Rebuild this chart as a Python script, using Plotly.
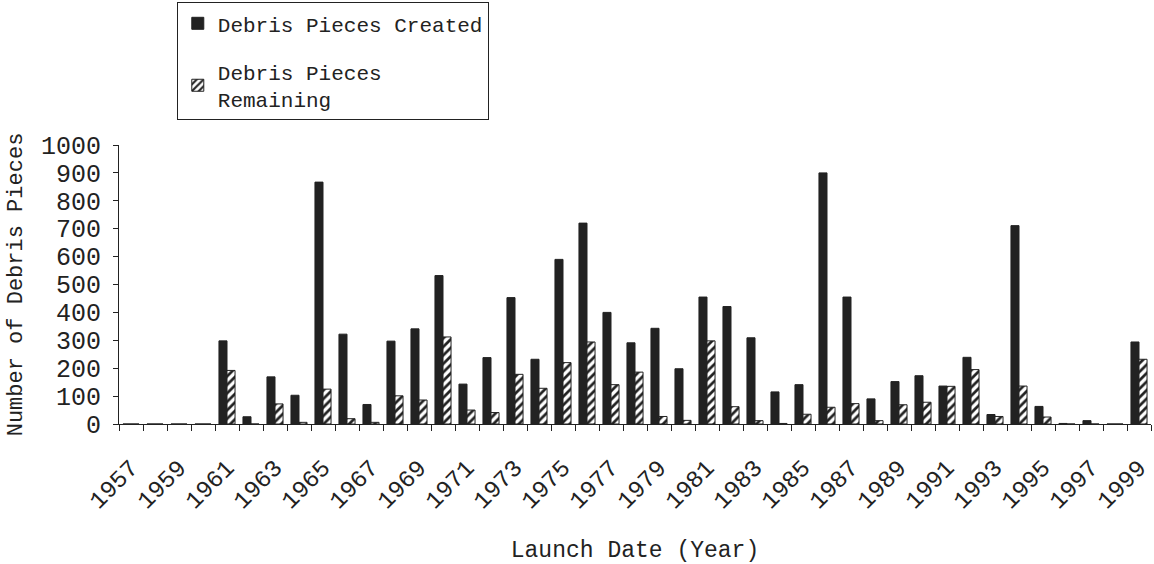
import plotly.graph_objects as go

years = list(range(1957, 2000))
created = [0, 0, 0, 0, 298, 26, 169, 103, 867, 322, 70, 297, 341, 532, 143, 238,
           453, 232, 590, 720, 400, 291, 343, 198, 455, 421, 309, 115, 141, 900,
           455, 90, 152, 173, 136, 239, 34, 711, 63, 2, 12, 0, 294]
remaining = [0, 0, 0, 0, 192, 0, 72, 6, 125, 19, 6, 101, 86, 312, 50, 41,
             178, 128, 220, 294, 141, 186, 27, 13, 298, 62, 12, 2, 35, 60,
             73, 12, 69, 78, 135, 195, 27, 136, 25, 0, 0, 0, 232]
label_years = [y for y in years if y % 2 == 1]

FONT = "Liberation Mono"
INK = "#222222"

fig = go.Figure()
fig.add_trace(go.Bar(
    x=years, y=created, name="Debris Pieces Created",
    marker=dict(color=INK, line=dict(color=INK, width=1)),
    legendgroup="a",
))
fig.add_trace(go.Bar(
    x=years, y=remaining, name="Debris Pieces<br>Remaining",
    marker=dict(color="white", line=dict(color=INK, width=1),
                pattern=dict(shape="/", size=6, solidity=0.45,
                             fgcolor=INK, bgcolor="white", fillmode="replace")),
    legendgroup="b",
))

fig.update_layout(
    width=1154, height=564,
    margin=dict(l=119, r=2, t=142, b=138),
    paper_bgcolor="white", plot_bgcolor="white",
    barmode="group", bargap=0.33, bargroupgap=0.0,
    font=dict(family=FONT, size=22, color=INK),
    showlegend=True,
    legend=dict(
        x=0.056, y=1.512, xanchor="left", yanchor="top",
        bordercolor=INK, borderwidth=1, bgcolor="white",
        font=dict(family=FONT, size=21, color=INK),
        traceorder="grouped", tracegroupgap=18,
        itemwidth=30,
    ),
    xaxis=dict(
        range=[1956.5, 1999.5],
        tickmode="array", tickvals=label_years,
        ticktext=[str(y) for y in label_years],
        tickangle=-45, ticks="",
        ticklabelstandoff=19,
        tickfont=dict(family=FONT, size=24, color=INK),
        showline=True, linecolor=INK, linewidth=1,
        showgrid=False, zeroline=False,
        minor=dict(tickmode="array",
                   tickvals=[y - 0.5 for y in years] + [years[-1] + 0.5],
                   ticks="outside", ticklen=6, tickcolor=INK, showgrid=False),
        title=dict(text="Launch Date (Year)",
                   font=dict(family=FONT, size=23, color=INK), standoff=31),
    ),
    yaxis=dict(
        range=[0, 1000], dtick=100,
        ticks="outside", ticklen=5, tickcolor=INK,
        ticklabelstandoff=7,
        tickfont=dict(family=FONT, size=25, color=INK),
        showline=True, linecolor=INK, linewidth=1,
        showgrid=False, zeroline=False,
        title=dict(text="Number of Debris Pieces",
                   font=dict(family=FONT, size=22, color=INK), standoff=12),
    ),
)

fig.write_html("out.html", config={"displayModeBar": False},
               post_script="document.body.style.margin='0';")
